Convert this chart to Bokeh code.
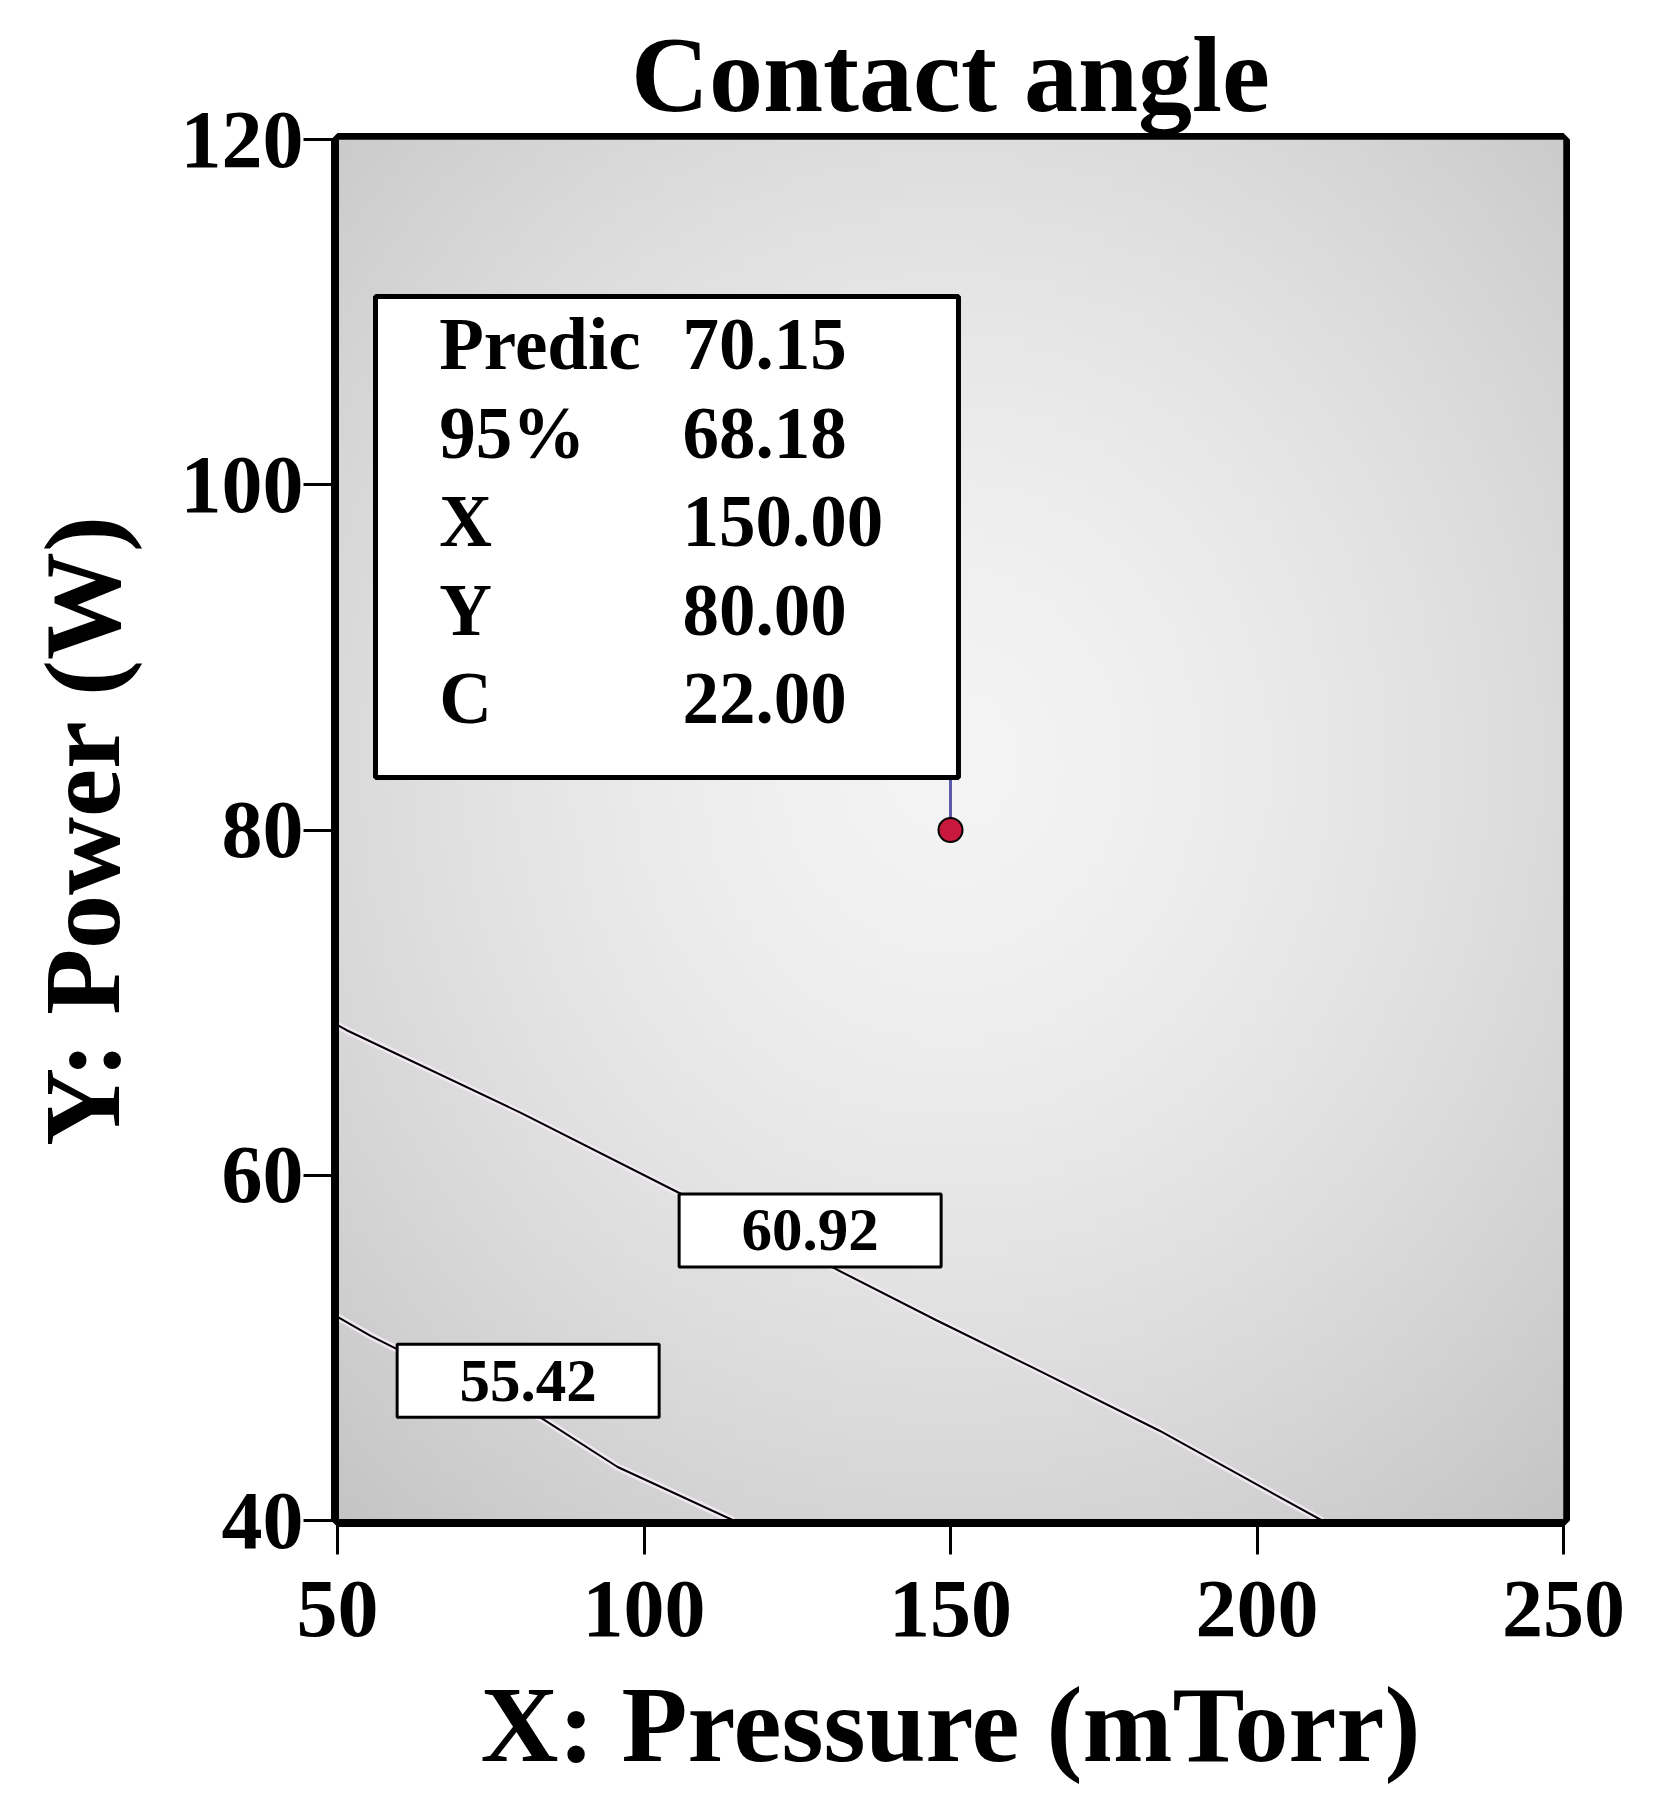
import numpy as np
from bokeh.plotting import figure
from bokeh.models import FixedTicker, Range1d
from bokeh.core.properties import value
from bokeh.embed import file_html
from bokeh.resources import INLINE

# ---------------- data ----------------
x_ticks = [50, 100, 150, 200, 250]
y_ticks = [40, 60, 80, 100, 120]

contour_6092_x = [50.0, 51.5, 80.0, 105.6, 131.1, 147.7, 163.2, 184.1, 210.6]
contour_6092_y = [68.7, 68.4, 63.6, 59.0, 54.6, 51.6, 48.9, 45.2, 40.0]
contour_5542_x = [50.0, 55.4, 59.3, 83.4, 95.7, 114.6]
contour_5542_y = [51.8, 50.7, 50.0, 45.9, 43.1, 40.0]
contour_levels = ["60.92", "55.42"]
contour_label_x = [127.1, 81.1]
contour_label_y = [56.8, 48.1]

point_x = [150.0]
point_y = [80.0]
info_names = ["Predic", "95%", "X", "Y", "C"]
info_values = ["70.15", "68.18", "150.00", "80.00", "22.00"]

FONT = "Liberation Serif"

p = figure(frame_width=1226, frame_height=1381,
           x_range=Range1d(50, 250), y_range=Range1d(40, 120),
           output_backend="svg", toolbar_location=None,
           min_border_left=337, min_border_right=105,
           min_border_top=139, min_border_bottom=250)

p.background_fill_color = "white"
p.border_fill_color = "white"
p.outline_line_color = "black"
p.outline_line_width = 13
p.xgrid.visible = False
p.ygrid.visible = False

# title
p.title.text = "Contact angle"
p.title.text_font = FONT
p.title.text_font_size = "108px"
p.title.text_font_style = "bold"
p.title.align = "center"
p.title.text_color = "black"
p.title.standoff = 11

# axes
p.xaxis.axis_label = "X: Pressure (mTorr)"
p.yaxis.axis_label = "Y: Power (W)"
p.xaxis.ticker = FixedTicker(ticks=x_ticks)
p.yaxis.ticker = FixedTicker(ticks=y_ticks)
for ax in (p.xaxis[0], p.yaxis[0]):
    ax.major_label_text_font = FONT
    ax.major_label_text_font_size = "82px"
    ax.major_label_text_font_style = "bold"
    ax.major_label_text_color = "black"
    ax.major_tick_out = 34
    ax.major_tick_in = 0
    ax.major_tick_line_width = 3
    ax.major_tick_line_color = "black"
    ax.minor_tick_line_color = None
    ax.axis_line_width = 3
    ax.axis_line_color = "black"
    ax.axis_label_text_font = FONT
    ax.axis_label_text_font_size = "108px"
    ax.axis_label_text_font_style = "bold"
    ax.axis_label_text_color = "black"
p.xaxis.major_label_standoff = 27
p.yaxis.major_label_standoff = 0
p.xaxis.axis_label_standoff = 26
p.yaxis.axis_label_standoff = 36

# background shading (decorative gradient)
nx, ny = 240, 120
gx = np.linspace(50, 250, nx)
gy = np.linspace(40, 120, ny)
GX, GY = np.meshgrid(gx, gy)
u = (GX - 150) / 100.0
v = (GY - 84) / 40.0
g = 244 - 44 * ((u ** 2 + v ** 2) / 2.0) ** 0.75
g = np.clip(g, 185, 245).astype(np.uint8)
img = np.empty((ny, nx), dtype=np.uint32)
view = img.view(dtype=np.uint8).reshape((ny, nx, 4))
view[:, :, 0] = g
view[:, :, 1] = g
view[:, :, 2] = g
view[:, :, 3] = 255
p.image_rgba(image=[img], x=50, y=40, dw=200, dh=80, level="image")

# contour lines
for cx, cy in ((contour_6092_x, contour_6092_y), (contour_5542_x, contour_5542_y)):
    p.line(cx, cy, line_color="#f3eaf3", line_width=7, line_alpha=0.9)
    p.line(cx, cy, line_color="black", line_width=2)

# contour labels
p.rect(contour_label_x, contour_label_y, width=262, height=73,
       width_units="screen", height_units="screen",
       fill_color="white", line_color="black", line_width=3)
p.text(contour_label_x, contour_label_y, text=contour_levels,
       text_font=value(FONT), text_font_size="61px", text_font_style="bold",
       text_align="center", text_baseline="middle", text_color="black")

# prediction point with leader line to the info box
box_left, box_right, box_bottom, box_top = 56.2, 151.3, 83.04, 110.9
p.segment(x0=point_x, y0=point_y, x1=point_x, y1=[box_bottom] * len(point_x),
          line_color="#5a5aa8", line_width=3)
p.quad(left=[box_left], right=[box_right], bottom=[box_bottom], top=[box_top],
       fill_color="white", line_color="black", line_width=5)
p.scatter(point_x, point_y, size=24, marker="circle",
          fill_color="#c8193c", line_color="black", line_width=2)

row_step = 88.5 / (1381 / 80.0)
first_baseline = 108.1
rows_y = [first_baseline - i * row_step for i in range(len(info_names))]
p.text([66.6] * len(info_names), rows_y, text=info_names,
       text_font=value(FONT), text_font_size="73px", text_font_style="bold",
       text_align="left", text_baseline="alphabetic", text_color="black")
p.text([106.3] * len(info_values), rows_y, text=info_values,
       text_font=value(FONT), text_font_size="73px", text_font_style="bold",
       text_align="left", text_baseline="alphabetic", text_color="black")

open("out.html", "w").write(file_html(p, INLINE))
